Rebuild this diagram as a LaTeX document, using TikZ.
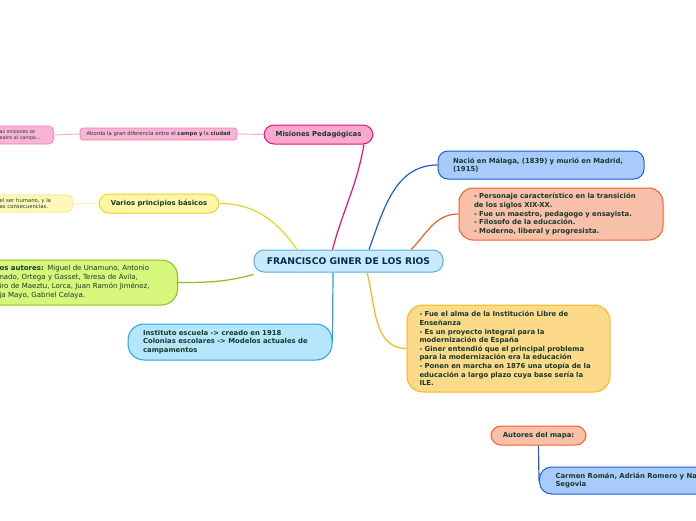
\documentclass[tikz,border=0pt]{standalone}
\usepackage{fontspec}
\setmainfont{DejaVu Sans}
\definecolor{txt}{HTML}{173B2B}
\definecolor{navy}{HTML}{0D2B4F}
\definecolor{ctrf}{HTML}{C8EAFC}\definecolor{ctrd}{HTML}{5AAEE0}
\definecolor{pinkf}{HTML}{F9A8CF}\definecolor{pinkd}{HTML}{E8126E}
\definecolor{pinklf}{HTML}{F9B3D4}\definecolor{pinkld}{HTML}{F07AB5}
\definecolor{yelf}{HTML}{FFF6A6}\definecolor{yeld}{HTML}{E8D420}
\definecolor{yellf}{HTML}{FFF8B8}\definecolor{yelld}{HTML}{F3E68A}
\definecolor{grnf}{HTML}{D6F77C}\definecolor{grnd}{HTML}{8CBF1C}
\definecolor{cyanf}{HTML}{B5E6FB}\definecolor{cyand}{HTML}{1EA5E6}
\definecolor{bluef}{HTML}{A9CBFB}\definecolor{blued}{HTML}{1A5FD5}
\definecolor{orgf}{HTML}{F8BFA9}\definecolor{orgd}{HTML}{F0602E}
\definecolor{goldf}{HTML}{FDD98A}\definecolor{goldd}{HTML}{F7B71E}
\begin{document}
\begin{tikzpicture}[x=1pt,y=-1pt,
  box/.style={draw, rounded corners=10pt, line width=1pt, text=txt,
    font=\bfseries\fontsize{6.9}{8.6}\selectfont, align=left, inner ysep=0pt},
  small/.style={draw, rounded corners=3pt, line width=0.6pt, text=txt,
    font=\fontsize{5.3}{6.2}\selectfont, align=left, inner ysep=0pt},
  conn/.style={line width=1.2pt},
  thin/.style={line width=0.9pt}]
\useasboundingbox (0,0) rectangle (696,520);
\clip (0,0) rectangle (696,520);
\fill[white] (0,0) rectangle (696,520);

% centre
\node[box, fill=ctrf, draw=ctrd, text=navy, font=\bfseries\fontsize{9.2}{11}\selectfont,
  minimum width=189pt, minimum height=22pt, inner xsep=0pt, align=center] (ctr) at (348.5,261) {FRANCISCO GINER DE LOS RIOS};

% right side
\node[box, fill=bluef, draw=blued, text width=176pt, inner xsep=15pt, minimum height=28pt] (nac) at (541,165)
  {Nació en Málaga, (1839) y murió en Madrid,\\(1915)};
\node[box, fill=orgf, draw=orgd, text width=174pt, inner xsep=15pt, minimum height=52pt, rounded corners=14pt] (per) at (561,214)
  {- Personaje característico en la transición\\de los siglos XIX-XX.\\- Fue un maestro, pedagogo y ensayista.\\- Filosofo de la educación.\\- Moderno, liberal y progresista.};
\node[box, fill=goldf, draw=goldd, text width=178pt, inner xsep=12.5pt, minimum height=87pt, rounded corners=16pt] (fue) at (508.5,348.5)
  {- Fue el alma de la Institución Libre de\\Enseñanza\\- Es un proyecto integral para la\\modernización de España\\- Giner entendió que el principal problema\\para la modernización era la educación\\- Ponen en marcha en 1876 una utopía de la\\educación a largo plazo cuya base sería la\\ILE.};
\node[box, fill=orgf, draw=orgd, minimum width=95pt, minimum height=19pt, inner xsep=0pt, align=center] (aut) at (538.5,435.5) {Autores del mapa:};
\node[box, fill=bluef, draw=blued, anchor=west, text width=190pt, inner xsep=16pt, minimum height=27pt, rounded corners=12pt] (car) at (539,480.5)
  {Carmen Román, Adrián Romero y Natalia\\Segovia};

% left side
\node[box, fill=pinkf, draw=pinkd, minimum width=109pt, minimum height=19pt, inner xsep=0pt, align=center] (mis) at (318.5,134.5) {Misiones Pedagógicas};
\node[small, fill=pinklf, draw=pinkld, minimum width=157pt, minimum height=12pt, inner xsep=0pt, align=center] (abo) at (158.5,134)
  {Aborda la gran diferencia entre el \textbf{campo y} la \textbf{ciudad}};
\node[small, fill=pinklf, draw=pinkld, anchor=east, text width=45pt, inner xsep=9pt, minimum height=18pt, rounded corners=5pt,
  font=\fontsize{4.8}{5.8}\selectfont] (lp) at (54,135)
  {as misiones se\\eatro al campo...};

\node[box, fill=yelf, draw=yeld, minimum width=120pt, minimum height=19pt, inner xsep=0pt, align=center] (var) at (159,203.5) {Varios principios básicos};
\node[small, fill=yellf, draw=yelld, anchor=east, text width=55pt, inner xsep=18pt, minimum height=17pt, rounded corners=5pt] (ly) at (73,203.5)
  {el ser humano, y la\\as consecuencias.};

\node[box, fill=grnf, draw=grnd, anchor=east, text width=160pt, inner xsep=18pt, minimum height=45pt, rounded corners=16pt,
  font=\fontsize{7}{9}\selectfont] (grn) at (178,282.5)
  {\textbf{os autores:} Miguel de Unamuno, Antonio\\nado, Ortega y Gasset, Teresa de Ávila,\\iro de Maeztu, Lorca, Juan Ramón Jiménez,\\ja Mayo, Gabriel Celaya.};

\node[box, fill=cyanf, draw=cyand, text width=174pt, inner xsep=15pt, minimum height=36pt, rounded corners=16pt] (ins) at (230,342)
  {Instituto escuela -> creado en 1918\\Colonias escolares -> Modelos actuales de\\campamentos};

% connectors
\draw[conn, draw=pinkd] ([xshift=-16pt]ctr.north) to[out=75,in=-100] ([xshift=45.5pt]mis.south);
\draw[conn, draw=yeld] ([xshift=-51.5pt]ctr.north) to[out=125,in=0] (var.east);
\draw[conn, draw=grnd] ([yshift=-2pt]ctr.south west) to[out=195,in=0] (grn.east);
\draw[conn, draw=cyand] ([xshift=-15.5pt]ctr.south) -- (ins.east);
\draw[conn, draw=blued] ([xshift=20.5pt]ctr.north) to[out=70,in=180] (nac.west);
\draw[conn, draw=orgd] ([xshift=62.5pt]ctr.north) to[out=45,in=180] (per.west);
\draw[conn, draw=goldd] ([xshift=18.5pt]ctr.south) to[out=-75,in=180] (fue.west);
\draw[thin, draw=pinkf] (mis.west) -- (abo.east);
\draw[thin, draw=pinkf] (abo.west) -- (lp.east);
\draw[thin, draw=yellf!80!yelld] (var.west) -- (ly.east);
\draw[conn, draw=blued] (aut.south) -- (car.west);
\end{tikzpicture}
\end{document}
